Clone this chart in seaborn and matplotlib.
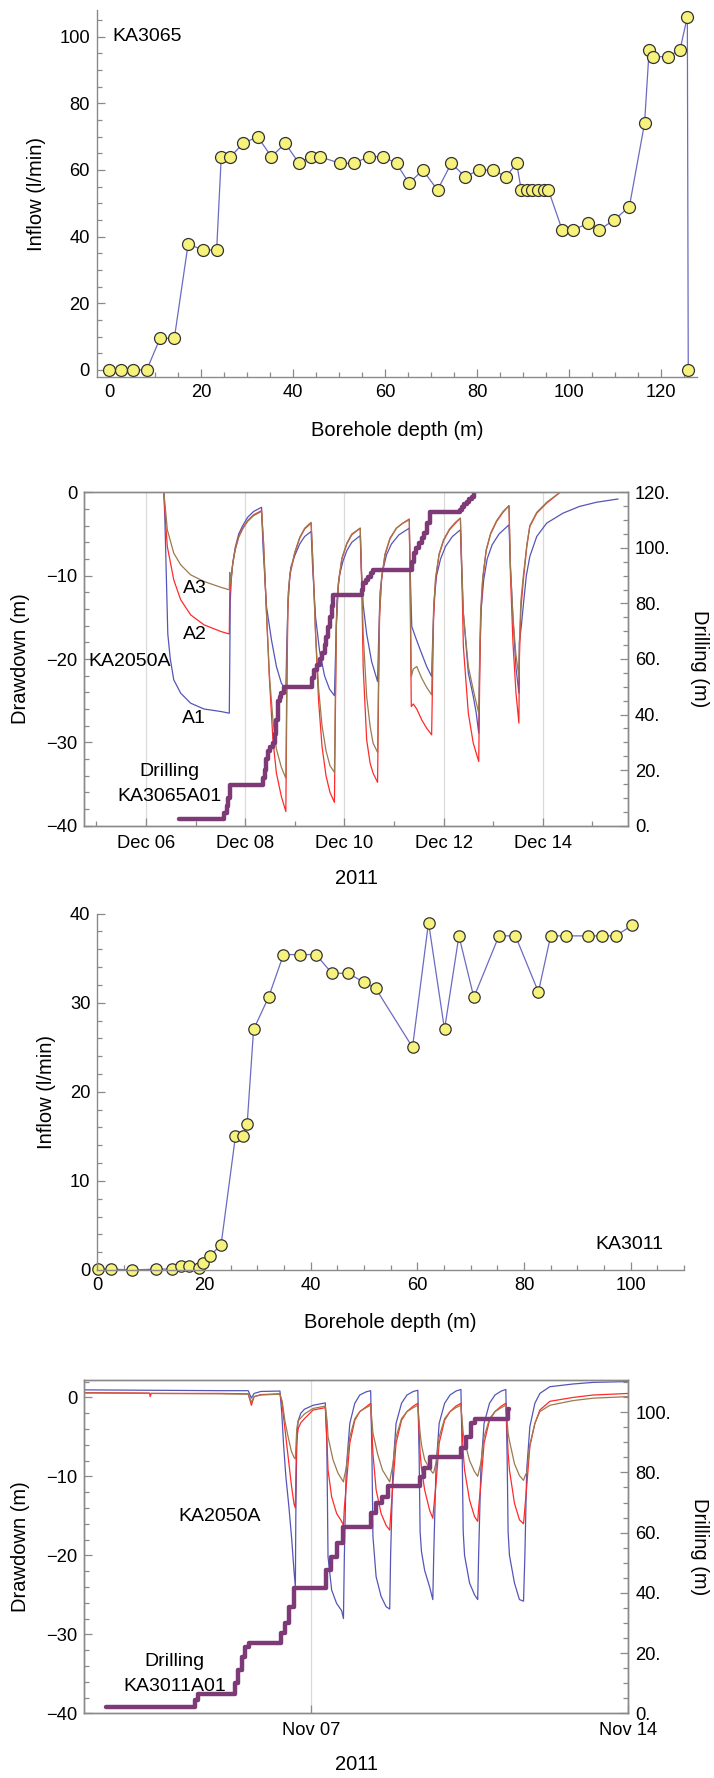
import numpy as np
import pandas as pd
import matplotlib
matplotlib.use("Agg")
import matplotlib.pyplot as plt
import matplotlib.dates as mdates
from matplotlib.ticker import MultipleLocator, FuncFormatter
import seaborn as sns

# ---------------- data ----------------
# Panel 1: KA3065 inflow vs borehole depth
depth_ka3065 = [0, 2.7, 5.2, 8.2, 11.1, 14.2, 17.2, 20.4, 23.4, 24.4, 26.4, 29.2, 32.3, 35.3,
                38.3, 41.3, 43.8, 45.8, 50.2, 53.2, 56.5, 59.5, 62.5, 65.2, 68.2, 71.4, 74.4,
                77.4, 80.4, 83.4, 86.3, 88.6, 89.6, 90.8, 92.0, 93.3, 94.5, 95.5, 98.5, 100.8,
                104.2, 106.5, 109.8, 113.1, 116.4, 117.4, 118.2, 121.4, 124.1, 125.7, 125.9]
inflow_ka3065 = [0, 0, 0, 0, 9.5, 9.5, 37.8, 36, 36, 64, 64, 68, 70, 64,
                 68, 62, 64, 64, 62, 62, 64, 64, 62, 56, 60, 54, 62,
                 58, 60, 60, 58, 62, 54, 54, 54, 54, 54, 54, 42, 42,
                 44, 42, 45, 49, 74, 96, 94, 94, 96, 106, 0]

# Panel 3: KA3011 inflow vs borehole depth
depth_ka3011 = [0.2, 2.6, 6.5, 11.0, 14.0, 15.6, 17.2, 19.1, 19.9, 21.1, 23.2, 25.9, 27.3,
                28.1, 29.3, 32.1, 34.9, 38.0, 41.0, 44.0, 47.0, 50.0, 52.2, 59.1, 62.1, 65.1,
                67.8, 70.6, 75.3, 78.4, 82.7, 85.0, 87.8, 92.0, 94.6, 97.2, 100.3]
inflow_ka3011 = [0.1, 0.1, 0, 0.1, 0.1, 0.4, 0.4, 0.2, 0.8, 1.6, 2.8, 15.0, 15.0,
                 16.4, 27.0, 30.6, 35.4, 35.4, 35.4, 33.3, 33.3, 32.3, 31.6, 25.0, 39.0, 27.0,
                 37.5, 30.6, 37.5, 37.5, 31.2, 37.5, 37.5, 37.5, 37.5, 37.5, 38.7]

# Panel 2: KA2050A drawdown, December 2011 (day of month, metres)
a1_dec = [(5.2, 0.0), (6.36, 0.0), (6.38, -3.0), (6.41, -10.0), (6.44, -17.0), (6.49, -20.0),
          (6.56, -22.5), (6.70, -24.1), (6.90, -25.3), (7.17, -26.0), (7.51, -26.3), (7.68, -26.5),
          (7.69, -20.0), (7.70, -13.0), (7.72, -10.5), (7.75, -8.5), (7.80, -6.6), (7.87, -5.0),
          (7.95, -4.0), (8.05, -3.0), (8.17, -2.3), (8.33, -1.8),
          (8.36, -6.5), (8.43, -13.7), (8.53, -17.7), (8.63, -20.9), (8.73, -22.9), (8.82, -23.7),
          (8.84, -18.0), (8.87, -12.0), (8.92, -9.0), (9.00, -7.6), (9.10, -6.2), (9.20, -5.3), (9.33, -4.7),
          (9.36, -9.0), (9.42, -15.0), (9.50, -19.0), (9.60, -22.0), (9.70, -23.6), (9.80, -24.4),
          (9.82, -20.0), (9.85, -13.0), (9.90, -10.0), (9.97, -8.3), (10.05, -7.0), (10.15, -6.0), (10.32, -5.2),
          (10.34, -9.0), (10.38, -13.5), (10.45, -17.0), (10.55, -20.3), (10.67, -22.7),
          (10.69, -18.0), (10.72, -12.0), (10.77, -9.5), (10.85, -7.5), (10.95, -6.2), (11.10, -5.1), (11.31, -4.3),
          (11.33, -10.0), (11.36, -16.1), (11.43, -17.3), (11.53, -18.9), (11.66, -20.9), (11.76, -22.1),
          (11.78, -18.0), (11.81, -13.0), (11.86, -10.0), (11.94, -8.0), (12.04, -6.5), (12.18, -5.3), (12.34, -4.5),
          (12.37, -10.0), (12.40, -14.5), (12.50, -21.7), (12.60, -24.5), (12.66, -26.5), (12.71, -28.9),
          (12.73, -20.0), (12.76, -14.0), (12.81, -10.5), (12.88, -8.0), (12.98, -6.3), (13.12, -5.0), (13.32, -3.9),
          (13.35, -9.0), (13.40, -15.0), (13.46, -21.0), (13.52, -24.1),
          (13.53, -18.0), (13.57, -16.0), (13.61, -13.5), (13.67, -10.0), (13.74, -7.7), (13.88, -5.3),
          (14.08, -3.7), (14.41, -2.5), (14.74, -1.7), (15.08, -1.2), (15.52, -0.8)]
a2_dec = [(5.2, 0.0), (6.36, 0.0), (6.40, -4.0), (6.43, -6.5), (6.56, -10.5), (6.70, -12.9),
          (6.90, -14.7), (7.17, -15.9), (7.51, -16.7), (7.68, -17.0),
          (7.69, -12.0), (7.71, -10.5), (7.75, -8.5), (7.80, -6.8), (7.87, -5.3), (7.95, -4.3),
          (8.05, -3.4), (8.17, -2.7), (8.33, -2.2),
          (8.37, -6.0), (8.43, -14.5), (8.49, -22.5), (8.56, -29.7), (8.63, -33.7), (8.73, -36.5), (8.82, -38.3),
          (8.84, -25.0), (8.86, -14.0), (8.90, -10.0), (9.00, -7.3), (9.10, -5.5), (9.20, -4.4), (9.33, -3.7),
          (9.37, -9.0), (9.42, -17.0), (9.48, -25.0), (9.55, -30.5), (9.63, -34.0), (9.71, -36.0), (9.80, -37.2),
          (9.82, -26.0), (9.84, -16.0), (9.88, -11.0), (9.95, -8.0), (10.05, -6.2), (10.15, -5.1), (10.32, -4.3),
          (10.35, -11.0), (10.38, -21.0), (10.45, -29.7), (10.52, -32.5), (10.58, -33.7), (10.67, -34.8),
          (10.69, -24.0), (10.71, -15.0), (10.75, -10.5), (10.82, -7.5), (10.92, -5.6), (11.05, -4.3),
          (11.18, -3.7), (11.31, -3.2),
          (11.33, -14.0), (11.35, -25.7), (11.39, -25.4), (11.46, -26.0), (11.56, -27.3), (11.66, -28.3), (11.76, -29.1),
          (11.78, -22.0), (11.80, -15.0), (11.84, -10.5), (11.91, -7.5), (12.00, -5.8), (12.12, -4.5),
          (12.24, -3.7), (12.34, -3.1),
          (12.37, -10.0), (12.40, -18.5), (12.50, -26.5), (12.60, -30.1), (12.71, -32.3),
          (12.73, -22.0), (12.75, -15.0), (12.79, -10.5), (12.86, -7.0), (12.95, -5.0), (13.07, -3.5),
          (13.20, -2.4), (13.32, -1.6),
          (13.35, -10.0), (13.40, -18.0), (13.46, -24.0), (13.52, -27.7),
          (13.53, -20.0), (13.56, -14.0), (13.61, -10.5), (13.68, -6.5), (13.74, -4.1), (13.88, -2.5),
          (14.08, -1.3), (14.35, 0.0), (14.50, 0.6)]
a3_dec = [(5.2, 0.0), (6.36, 0.0), (6.40, -2.5), (6.43, -4.5), (6.56, -7.3), (6.70, -8.7),
          (6.90, -9.9), (7.17, -10.7), (7.51, -11.4), (7.68, -11.7),
          (7.69, -9.6), (7.70, -11.0), (7.72, -10.2), (7.75, -8.6), (7.80, -6.9), (7.87, -5.4),
          (7.95, -4.4), (8.05, -3.5), (8.17, -2.8), (8.33, -2.3),
          (8.37, -6.0), (8.43, -14.5), (8.49, -22.0), (8.56, -27.3), (8.63, -30.8), (8.73, -33.0), (8.82, -34.3),
          (8.84, -22.0), (8.86, -13.5), (8.90, -9.8), (9.00, -7.2), (9.10, -5.4), (9.20, -4.3), (9.33, -3.6),
          (9.37, -9.0), (9.42, -17.0), (9.48, -23.5), (9.55, -28.0), (9.63, -31.0), (9.71, -32.8), (9.80, -33.6),
          (9.82, -24.0), (9.84, -15.5), (9.88, -10.8), (9.95, -7.9), (10.05, -6.1), (10.15, -5.0), (10.32, -4.3),
          (10.35, -10.0), (10.38, -17.0), (10.45, -24.5), (10.52, -28.1), (10.58, -30.1), (10.67, -31.2),
          (10.69, -22.0), (10.71, -14.5), (10.75, -10.3), (10.82, -7.4), (10.92, -5.5), (11.05, -4.3),
          (11.18, -3.7), (11.31, -3.3),
          (11.33, -12.0), (11.35, -22.1), (11.39, -21.2), (11.46, -20.9), (11.56, -22.3), (11.66, -23.4), (11.76, -24.3),
          (11.78, -19.0), (11.80, -14.0), (11.84, -10.2), (11.91, -7.4), (12.00, -5.7), (12.12, -4.4),
          (12.24, -3.6), (12.34, -3.1),
          (12.37, -9.0), (12.40, -14.5), (12.50, -20.9), (12.60, -23.7), (12.71, -26.5),
          (12.73, -19.0), (12.75, -14.0), (12.79, -10.2), (12.86, -6.9), (12.95, -4.9), (13.07, -3.4),
          (13.20, -2.3), (13.32, -1.6),
          (13.35, -9.0), (13.40, -15.0), (13.46, -19.5), (13.52, -22.1),
          (13.53, -18.0), (13.56, -13.0), (13.61, -10.0), (13.68, -6.3), (13.74, -4.0), (13.88, -2.4),
          (14.08, -1.2), (14.35, 0.0), (14.50, 0.6)]
# Drilling progress of KA3065A01 (m), step values
drill_ka3065a01 = [(6.66, 2.3), (7.58, 4.5), (7.63, 7.0), (7.66, 10.0), (7.70, 14.6), (8.36, 17.0),
                   (8.39, 20.0), (8.43, 24.0), (8.46, 27.0), (8.51, 28.5), (8.56, 29.6), (8.60, 33.0),
                   (8.63, 38.0), (8.66, 45.0), (8.70, 46.5), (8.73, 47.6), (8.78, 50.0), (9.34, 53.0),
                   (9.38, 56.0), (9.44, 58.0), (9.50, 60.0), (9.55, 62.0), (9.60, 65.0), (9.64, 68.0),
                   (9.68, 71.6), (9.71, 75.0), (9.75, 79.0), (9.78, 83.0), (10.35, 85.0), (10.38, 87.4),
                   (10.43, 88.5), (10.48, 89.6), (10.53, 91.0), (10.58, 92.0), (11.36, 95.0), (11.40, 98.0),
                   (11.45, 100.0), (11.50, 101.6), (11.56, 103.5), (11.61, 105.2), (11.67, 109.0),
                   (11.73, 112.8), (12.33, 113.8), (12.37, 114.8), (12.42, 115.7), (12.47, 116.6),
                   (12.52, 117.5), (12.57, 118.4), (12.61, 120.0), (12.62, 120.0)]

# Panel 4: KA2050A drawdown, November 2011
a1_nov = [(2.0, 0.95), (3.5, 0.9), (5.0, 0.85), (5.62, 0.85), (5.69, -0.1), (5.75, 0.5), (5.90, 0.75), (6.30, 0.8),
          (6.32, 0.8), (6.36, -2.0), (6.40, -6.0), (6.45, -10.0), (6.52, -14.0), (6.58, -18.0), (6.63, -22.0), (6.66, -24.0),
          (6.67, -15.0), (6.69, -6.0), (6.72, -3.0), (6.78, -2.0), (6.86, -1.5), (7.05, -1.0), (7.32, -0.7),
          (7.35, -5.0), (7.36, -9.2), (7.38, -20.2), (7.46, -24.4), (7.57, -26.1), (7.68, -27.0), (7.72, -28.0),
          (7.74, -20.0), (7.78, -9.2), (7.86, -3.3), (7.97, -0.75), (8.08, 0.3), (8.22, 0.7), (8.32, 0.85),
          (8.35, -8.0), (8.37, -17.6), (8.44, -22.7), (8.55, -25.2), (8.66, -26.5), (8.74, -26.8),
          (8.76, -20.0), (8.81, -9.0), (8.88, -3.3), (9.00, -0.75), (9.12, 0.3), (9.26, 0.75), (9.36, 0.9),
          (9.39, -8.0), (9.41, -17.0), (9.44, -19.5), (9.51, -21.9), (9.62, -24.0), (9.69, -25.6),
          (9.71, -20.0), (9.76, -9.0), (9.83, -3.3), (9.95, -0.75), (10.07, 0.3), (10.20, 0.8), (10.31, 1.0),
          (10.34, -8.0), (10.36, -17.0), (10.39, -20.0), (10.50, -23.5), (10.61, -25.0), (10.68, -25.6),
          (10.70, -20.0), (10.75, -9.0), (10.82, -3.3), (10.94, -0.75), (11.06, 0.3), (11.20, 0.8), (11.30, 1.0),
          (11.33, -8.0), (11.35, -17.0), (11.38, -20.0), (11.49, -23.5), (11.60, -25.6), (11.69, -25.8),
          (11.72, -20.0), (11.76, -9.2), (11.83, -3.7), (11.94, -0.75), (12.05, 0.5), (12.27, 1.35),
          (12.79, 1.7), (13.23, 1.9), (14.0, 2.0)]
a2_nov = [(2.0, 0.6), (3.44, 0.55), (3.46, 0.1), (3.48, 0.5), (5.0, 0.5), (5.62, 0.45), (5.69, -1.0), (5.75, 0.1),
          (5.90, 0.35), (6.30, 0.45),
          (6.32, 0.45), (6.37, -1.0), (6.43, -4.0), (6.50, -7.5), (6.57, -11.0), (6.63, -13.5), (6.66, -14.0),
          (6.67, -10.0), (6.69, -5.5), (6.72, -4.0), (6.78, -3.2), (6.86, -2.7), (7.05, -1.6), (7.32, -1.3),
          (7.36, -6.0), (7.38, -9.2), (7.46, -12.6), (7.57, -14.7), (7.68, -15.7), (7.72, -16.2),
          (7.74, -14.0), (7.78, -11.3), (7.86, -5.8), (7.97, -2.9), (8.08, -1.8), (8.22, -1.2), (8.32, -0.75),
          (8.37, -7.1), (8.44, -11.7), (8.55, -14.7), (8.66, -16.2), (8.74, -16.8),
          (8.76, -15.0), (8.81, -11.0), (8.88, -5.8), (9.00, -2.9), (9.12, -1.8), (9.26, -1.1), (9.36, -0.75),
          (9.41, -7.0), (9.44, -9.0), (9.51, -11.7), (9.62, -14.3), (9.69, -15.3),
          (9.71, -14.0), (9.76, -11.0), (9.83, -5.8), (9.95, -2.9), (10.07, -1.8), (10.20, -1.1), (10.31, -0.75),
          (10.36, -7.0), (10.39, -9.2), (10.50, -13.0), (10.61, -15.1), (10.68, -15.7),
          (10.70, -14.0), (10.75, -11.0), (10.82, -5.8), (10.94, -2.9), (11.06, -1.8), (11.20, -1.1), (11.30, -0.75),
          (11.35, -7.0), (11.38, -9.2), (11.49, -13.4), (11.60, -15.5), (11.69, -16.0),
          (11.72, -14.0), (11.76, -11.3), (11.83, -6.2), (11.94, -3.3), (12.05, -1.6), (12.27, -0.5),
          (12.79, 0.0), (13.23, 0.3), (14.0, 0.5)]
a3_nov = [(2.0, 0.55), (3.5, 0.5), (5.0, 0.45), (5.62, 0.4), (5.69, -0.6), (5.75, 0.1), (5.90, 0.3), (6.30, 0.4),
          (6.32, 0.4), (6.37, -0.5), (6.43, -3.0), (6.50, -5.0), (6.57, -6.8), (6.63, -7.6), (6.66, -7.8),
          (6.67, -6.5), (6.69, -4.0), (6.72, -3.0), (6.78, -2.6), (6.86, -2.1), (7.05, -1.4), (7.32, -1.1),
          (7.36, -3.0), (7.38, -5.0), (7.49, -7.9), (7.60, -9.6), (7.72, -10.7),
          (7.74, -10.0), (7.78, -9.0), (7.86, -5.0), (7.97, -2.7), (8.08, -1.8), (8.22, -1.3), (8.32, -1.0),
          (8.37, -4.5), (8.47, -7.1), (8.58, -9.2), (8.74, -10.7),
          (8.76, -10.0), (8.81, -8.5), (8.88, -5.0), (9.00, -2.7), (9.12, -1.8), (9.26, -1.3), (9.36, -1.0),
          (9.41, -4.5), (9.44, -6.0), (9.51, -7.9), (9.62, -9.0), (9.69, -9.6),
          (9.71, -9.5), (9.76, -8.3), (9.83, -5.0), (9.95, -2.7), (10.07, -1.8), (10.20, -1.3), (10.31, -1.0),
          (10.36, -4.5), (10.39, -5.5), (10.50, -8.0), (10.61, -9.4), (10.68, -10.0),
          (10.70, -9.5), (10.75, -8.3), (10.82, -5.0), (10.94, -2.7), (11.06, -1.8), (11.20, -1.3), (11.30, -1.0),
          (11.35, -4.5), (11.38, -5.5), (11.49, -8.4), (11.60, -9.9), (11.69, -10.5),
          (11.72, -10.0), (11.76, -9.5), (11.83, -6.0), (11.94, -3.3), (12.05, -1.8), (12.27, -1.0),
          (12.79, -0.4), (13.23, -0.1), (14.0, 0.1)]
# Drilling progress of KA3011A01 (m), step values
drill_ka3011a01 = [(2.49, 2.0), (4.44, 4.4), (4.51, 6.4), (5.32, 10.0), (5.40, 14.4), (5.48, 18.8),
                   (5.56, 22.1), (5.64, 23.5), (6.35, 26.6), (6.44, 29.9), (6.53, 35.4), (6.63, 41.7),
                   (7.33, 47.6), (7.45, 52.0), (7.57, 56.5), (7.70, 62.0), (8.33, 66.4), (8.43, 69.8),
                   (8.56, 72.0), (8.70, 75.5), (9.40, 78.6), (9.50, 81.4), (9.63, 85.0), (10.32, 88.0),
                   (10.42, 91.9), (10.53, 96.3), (10.63, 97.8), (11.35, 101.0), (11.37, 101.0)]

dec_ticks = [6, 8, 10, 12, 14]
nov_ticks = [7, 14]

# ---------------- style ----------------
sns.set_theme(style="ticks")
plt.rcParams['font.family'] = ['Liberation Sans', 'DejaVu Sans']
plt.rcParams['text.color'] = 'black'
plt.rcParams['axes.labelcolor'] = 'black'
plt.rcParams['xtick.labelcolor'] = 'black'
plt.rcParams['ytick.labelcolor'] = 'black'

W, H = 714, 1778
fig = plt.figure(figsize=(W / 100, H / 100), dpi=100)

GRAY = '#8a8a8a'
LINE_BLUE = '#6b6bc4'
C_A1 = '#5555b8'
C_A2 = '#ff2a2a'
C_A3 = '#9a7b4f'
C_DRILL = '#7d3a76'
YEL = '#f7f27c'
TICK_FS = 13.2
LAB_FS = 14.5
ANN_FS = 14


def rect(l, r, t, b):
    return [l / W, 1 - b / H, (r - l) / W, (b - t) / H]


def ftext(x, y, s, **kw):
    fig.text(x / W, 1 - y / H, s, ha='center', va='center', fontsize=LAB_FS, **kw)


def style_ticks(ax, spines, xpad=5):
    for s in ['top', 'right', 'left', 'bottom']:
        ax.spines[s].set_visible(s in spines)
        ax.spines[s].set_color(GRAY)
        ax.spines[s].set_linewidth(1.0)
    ax.tick_params(which='both', direction='in', color=GRAY, width=0.9,
                   labelsize=TICK_FS, pad=5, top=False, right=False)
    ax.tick_params(axis='x', which='both', pad=xpad)
    ax.tick_params(which='major', length=6)
    ax.tick_params(which='minor', length=3.5)


def to_dates(pairs, month):
    arr = np.array(pairs, dtype=float)
    base = pd.Timestamp(f"2011-{month:02d}-01")
    t = base + pd.to_timedelta(arr[:, 0] - 1.0, unit="D")
    return pd.DataFrame({"t": t, "v": arr[:, 1]})


def dnum(day, month):
    return mdates.date2num(pd.Timestamp(f"2011-{month:02d}-01") + pd.Timedelta(days=day - 1.0))


def inflow_panel(ax, depth, inflow, xlim, ylim, ymaj, ymin, msize):
    df = pd.DataFrame({"d": depth, "q": inflow})
    sns.lineplot(data=df, x="d", y="q", ax=ax, color=LINE_BLUE, linewidth=0.9,
                 marker='o', markersize=msize, markerfacecolor=YEL, markeredgecolor='#333333',
                 markeredgewidth=0.9, estimator=None, sort=False, clip_on=False, legend=False)
    ax.set_xlim(*xlim)
    ax.set_ylim(*ylim)
    style_ticks(ax, ['left', 'bottom'])
    ax.xaxis.set_major_locator(MultipleLocator(20))
    ax.xaxis.set_minor_locator(MultipleLocator(5))
    ax.yaxis.set_major_locator(MultipleLocator(ymaj))
    ax.yaxis.set_minor_locator(MultipleLocator(ymin))
    ax.set_xlabel("")
    ax.set_ylabel("")


def drawdown_panel(ax, a1, a2, a3, drill, month, xlim, ylim, ylim2, ticks, minor_daily, r_max):
    for series, col in [(a1, C_A1), (a2, C_A2), (a3, C_A3)]:
        df = to_dates(series, month)
        sns.lineplot(data=df, x="t", y="v", ax=ax, color=col, linewidth=0.9,
                     estimator=None, sort=False, legend=False)
    ax.set_xlim(dnum(xlim[0], month), dnum(xlim[1], month))
    ax.set_ylim(*ylim)
    style_ticks(ax, ['left', 'bottom', 'top', 'right'], xpad=6.5)
    ax.xaxis.set_major_locator(mdates.DayLocator(bymonthday=ticks))
    if minor_daily:
        ax.xaxis.set_minor_locator(mdates.DayLocator())
    ax.xaxis.set_major_formatter(mdates.DateFormatter('%b %d'))
    ax.yaxis.set_major_locator(MultipleLocator(10))
    ax.yaxis.set_minor_locator(MultipleLocator(2))
    ax.grid(True, axis='x', which='major', color='#dadada', linewidth=0.9)
    ax.set_axisbelow(True)
    ax.set_xlabel("")
    ax.set_ylabel("")

    axr = ax.twinx()
    ddf = to_dates(drill, month)
    sns.lineplot(data=ddf, x="t", y="v", ax=axr, color=C_DRILL, linewidth=3.2,
                 drawstyle='steps-post', estimator=None, sort=False, legend=False)
    axr.set_xlim(dnum(xlim[0], month), dnum(xlim[1], month))
    axr.set_ylim(*ylim2)
    for s in ['top', 'right', 'left', 'bottom']:
        axr.spines[s].set_color(GRAY)
        axr.spines[s].set_linewidth(1.0)
    axr.tick_params(which='both', direction='in', color=GRAY, width=0.9,
                    labelsize=TICK_FS, pad=5, left=False, right=True)
    axr.tick_params(which='major', length=6)
    axr.tick_params(which='minor', length=3.5)
    axr.yaxis.set_major_locator(matplotlib.ticker.FixedLocator(list(range(0, r_max + 1, 20))))
    axr.yaxis.set_minor_locator(MultipleLocator(5))
    axr.yaxis.set_major_formatter(FuncFormatter(lambda v, p: f"{int(round(v))}."))
    axr.set_ylabel("")
    axr.set_xlabel("")
    return axr


# ---------------- Panel 1 ----------------
ax1 = fig.add_axes(rect(96.7, 697, 10, 377.3))
inflow_panel(ax1, depth_ka3065, inflow_ka3065, (-2.67, 127.8), (-2.2, 108), 20, 5, 8.6)
ax1.text(0.8, 100, "KA3065", ha='left', va='center', fontsize=ANN_FS)
ftext(36.5, 193.6, "Inflow (l/min)", rotation=90)
ftext(397, 430, "Borehole depth (m)")

# ---------------- Panel 2 ----------------
ax2 = fig.add_axes(rect(84, 628, 492.3, 825.7))
drawdown_panel(ax2, a1_dec, a2_dec, a3_dec, drill_ka3065a01, 12, (4.75, 15.72), (-40, 0),
               (0, 120), dec_ticks, True, 120)
for txt, d, v in [("A3", 6.99, -11.5), ("A2", 6.99, -17.1), ("A1", 6.96, -27.1),
                  ("KA2050A", 5.68, -20.3), ("Drilling", 6.48, -33.5), ("KA3065A01", 6.48, -36.5)]:
    ax2.text(dnum(d, 12), v, txt, ha='center', va='center', fontsize=ANN_FS)
ftext(20.5, 659, "Drawdown (m)", rotation=90)
ftext(699, 659, "Drilling (m)", rotation=270)
ftext(356, 878, "2011")

# ---------------- Panel 3 ----------------
ax3 = fig.add_axes(rect(97.3, 684, 913.6, 1270))
inflow_panel(ax3, depth_ka3011, inflow_ka3011, (0, 110), (0, 40), 10, 2, 8.2)
ax3.text(99.7, 2.9, "KA3011", ha='center', va='center', fontsize=ANN_FS)
ftext(47, 1091.8, "Inflow (l/min)", rotation=90)
ftext(390.6, 1323, "Borehole depth (m)")

# ---------------- Panel 4 ----------------
ax4 = fig.add_axes(rect(84, 628.3, 1380, 1713.3))
drawdown_panel(ax4, a1_nov, a2_nov, a3_nov, drill_ka3011a01, 11, (2.0, 14.0), (-40, 2.2),
               (0, 110.7), nov_ticks, False, 100)
for txt, d, v in [("KA2050A", 5.0, -15.1), ("Drilling", 4.0, -33.5), ("KA3011A01", 4.0, -36.6)]:
    ax4.text(dnum(d, 11), v, txt, ha='center', va='center', fontsize=ANN_FS)
ftext(20.5, 1546.7, "Drawdown (m)", rotation=90)
ftext(699, 1546.7, "Drilling (m)", rotation=270)
ftext(356, 1765, "2011")

fig.savefig("out.png", dpi=100)
